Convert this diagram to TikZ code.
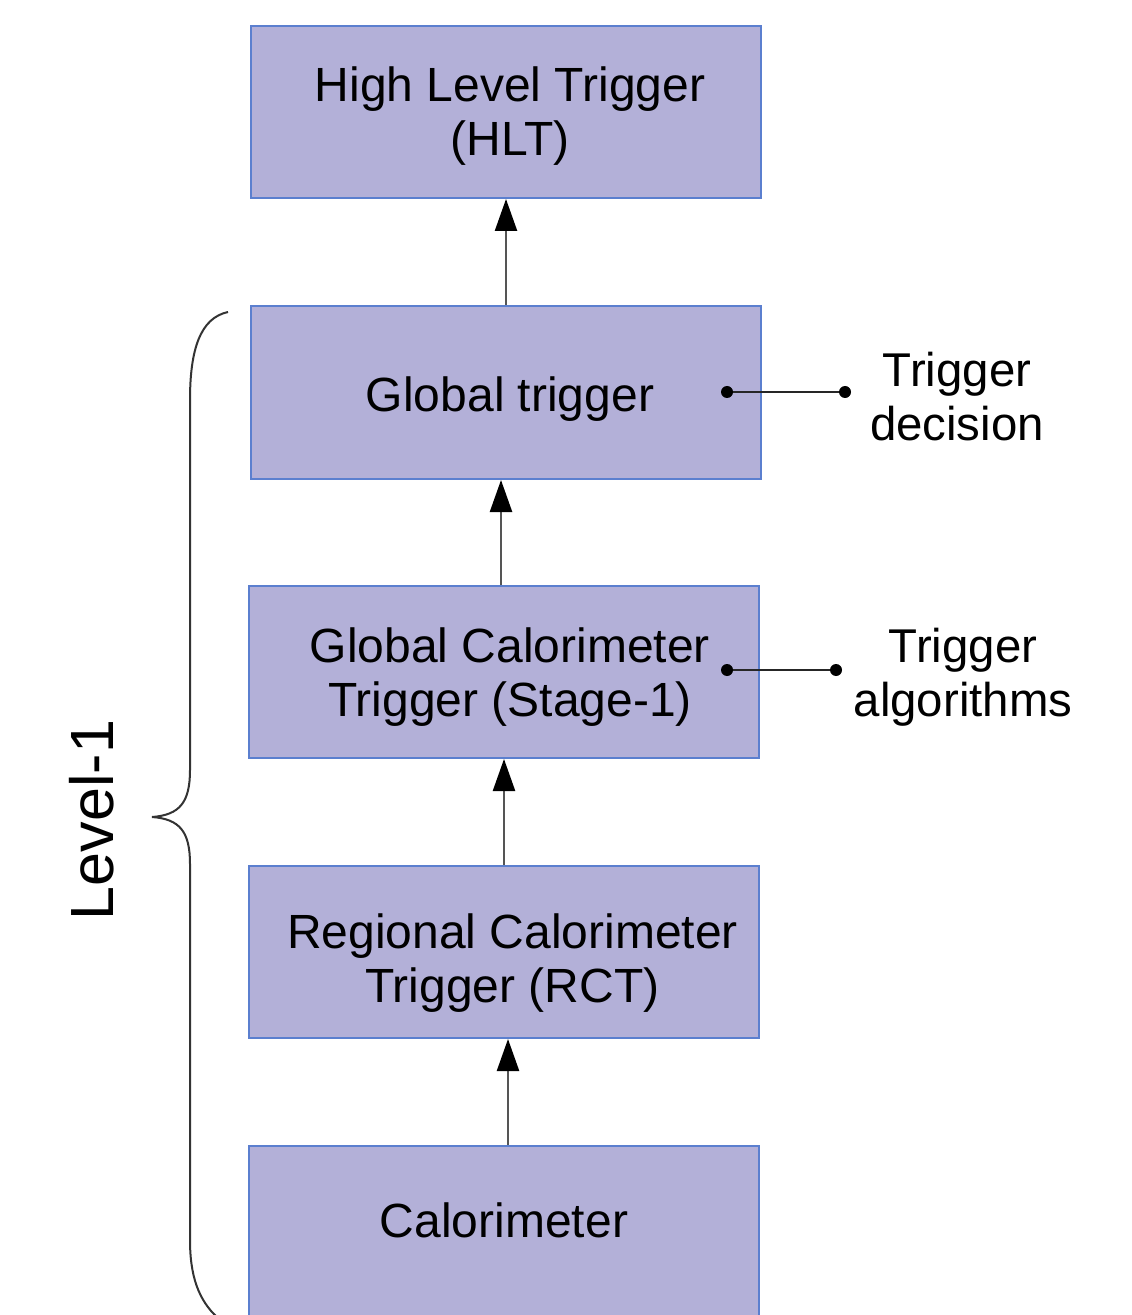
\documentclass[tikz,border=0pt]{standalone}
\usepackage{fontspec}
\setmainfont{Liberation Sans}
\usetikzlibrary{arrows.meta,calc}
\definecolor{boxfill}{HTML}{B3B0D8}
\definecolor{boxline}{HTML}{5B7FCF}
\definecolor{arrline}{HTML}{555555}
\newcommand{\shifttext}[3]{\hspace*{#1}\raisebox{#2}[\height][\depth]{\begin{tabular}{@{}c@{}}#3\end{tabular}}}
\tikzset{
  stage/.style={draw=boxline, line width=1pt, fill=boxfill, minimum width=255pt, minimum height=86pt, align=center, inner sep=0pt, font=\fontsize{24}{27}\selectfont},
  uparr/.style={draw=arrline, line width=1.2pt, -{Triangle[length=16pt,width=11pt,fill=black,color=black]}},
  side/.style={align=center, font=\fontsize{23.7}{27}\selectfont},
  dotline/.style={draw=black!85, line width=1pt},
  dot/.style={fill=black, circle, inner sep=0pt, minimum size=6pt},
}
\begin{document}
\begin{tikzpicture}[x=0.5pt,y=-0.5pt]
\useasboundingbox (0,0) rectangle (1131,1315);
\clip (0,0) rectangle (1131,1315);
\node[stage] (hlt) at (506,112) {\shifttext{4pt}{-3pt}{High Level Trigger\\(HLT)}};
\node[stage, minimum height=86.5pt] (gt) at (506,392.5) {\shifttext{4pt}{-4pt}{Global trigger}};
\node[stage] (gct) at (504,672) {\shifttext{6pt}{-3.5pt}{Global Calorimeter\\Trigger (Stage-1)}};
\node[stage] (rct) at (504,952) {\shifttext{8.5pt}{-6.5pt}{Regional Calorimeter\\Trigger (RCT)}};
\node[stage] (cal) at (504,1232) {\shifttext{0pt}{2.5pt}{Calorimeter}};
\draw[uparr] (gt.north) -- (hlt.south);
\draw[uparr] ($(gct.north)+(-3,0)$) -- ($(gct.north |- gt.south)+(-3,0)$);
\draw[uparr] (rct.north) -- (gct.south);
\draw[uparr] ($(cal.north)+(4,0)$) -- ($(rct.south)+(4,0)$);
\coordinate (d1a) at (727,392);
\coordinate (d1b) at (845,392);
\coordinate (d2a) at (727,670);
\coordinate (d2b) at (836,670);
\draw[dotline] (d1a) -- (d1b);
\draw[dotline] (d2a) -- (d2b);
\node[dot] at (d1a) {};
\node[dot] at (d1b) {};
\node[dot] at (d2a) {};
\node[dot] at (d2b) {};
\node[side] (dec) at (957,397) {Trigger\\decision};
\node[side] (alg) at (963,677) {Trigger\\algorithms};
\draw[black!80, line width=1pt] (228,312) .. controls (200,318) and (190,350) .. (190,400) -- (190,770) .. controls (190,802) and (180,815) .. (152,817) .. controls (180,819) and (190,832) .. (190,864) -- (190,1240) .. controls (190,1275) and (198,1300) .. (218,1318);
\node[rotate=90, font=\fontsize{30.5}{34}\selectfont] (lvl) at (92,820) {Level-1};
\end{tikzpicture}
\end{document}
